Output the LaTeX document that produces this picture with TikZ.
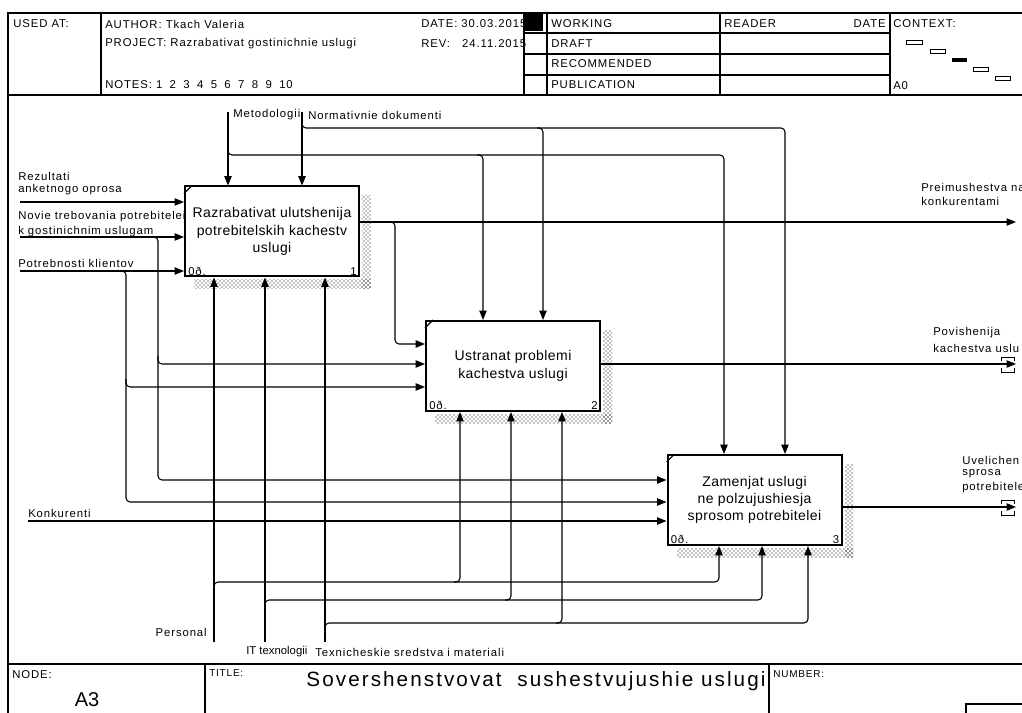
\documentclass[tikz,border=0pt]{standalone}
\usepackage{fontspec}
\setmainfont{Liberation Sans}
\newfontfamily\lblfont[LetterSpace=8]{Liberation Sans}
\newfontfamily\boxfont[LetterSpace=3]{Liberation Sans}
\newfontfamily\ttlfont[LetterSpace=10]{Liberation Sans}
\usetikzlibrary{arrows.meta,patterns,calc}
\tikzset{
  conn/.style={line width=0.8pt, rounded corners=3pt},
  arr/.style={conn, -{Triangle[length=7pt,width=5.5pt]}},
  fbox/.style={draw, line width=1.5pt, fill=white, minimum width=130.5pt, minimum height=67.5pt,
    align=center, font=\boxfont\fontsize{10.5}{13}\selectfont, inner sep=0pt},
  lbl/.style={font=\lblfont\fontsize{8.5}{10.5}\selectfont, inner sep=0pt, anchor=west},
  hdr/.style={font=\lblfont\fontsize{8.5}{10}\selectfont, inner sep=0pt, anchor=west},
  small/.style={font=\lblfont\fontsize{7.5}{9}\selectfont, inner sep=0pt},
  frame/.style={line width=0.9pt},
  shade/.style={pattern=crosshatch dots, pattern color=black},
  ctx/.style={line width=0.7pt},
  tun/.style={line width=0.6pt},
}
\begin{document}
\begin{tikzpicture}[x=0.75pt,y=-0.75pt]
\useasboundingbox (0,0) rectangle (1022,713);
\clip (0,0) rectangle (1022,713);
\fill[white] (0,0) rectangle (1022,713);

% ---------- header ----------
\draw[frame] (8,713) -- (8,13) -- (1022,13);
\draw[frame] (8,95) -- (1022,95);
\draw[frame] (101,13) -- (101,95);
\draw[frame] (524,13) -- (524,95);
\draw[frame] (547,13) -- (547,95);
\draw[frame] (720,13) -- (720,95);
\draw[frame] (890,13) -- (890,95);
\draw[frame] (524,33) -- (890,33);
\draw[frame] (524,54) -- (890,54);
\draw[frame] (524,75) -- (890,75);
\fill (525,13) rectangle (543,31);

\node[hdr] (h1) at (13,24) {USED AT:};
\node[hdr] (h2) at (105,24) {AUTHOR: Tkach Valeria};
\node[hdr] (h3) at (105,44) {PROJECT: Razrabativat gostinichnie uslugi};
\node[hdr] (h4) at (105,85) {NOTES: 1\hspace{2.5pt} 2\hspace{2.5pt} 3\hspace{2.5pt} 4\hspace{2.5pt} 5\hspace{2.5pt} 6\hspace{2.5pt} 7\hspace{2.5pt} 8\hspace{2.5pt} 9\hspace{2.5pt} 10};
\node[hdr] (h5) at (421,24) {DATE: 30.03.2015};
\node[hdr] (h6) at (421,44) {REV:\ \ \ 24.11.2015};
\node[hdr] (h7) at (551,24) {WORKING};
\node[hdr] (h8) at (551,44) {DRAFT};
\node[hdr] (h9) at (551,64) {RECOMMENDED};
\node[hdr] (h10) at (551,85) {PUBLICATION};
\node[hdr] (h11) at (724,24) {READER};
\node[hdr, anchor=east] (h12) at (886,24) {DATE};
\node[hdr] (h13) at (893,24) {CONTEXT:};
\node[hdr] (h14) at (893,86) {A0};
\draw[ctx] (906,40) rectangle (922,44);
\draw[ctx] (930,49) rectangle (945,53);
\fill (952,58) rectangle (967,62);
\draw[ctx] (973,67) rectangle (988,71);
\draw[ctx] (995,76) rectangle (1010,80);

% ---------- footer ----------
\draw[frame] (8,664) -- (1022,664);
\draw[frame] (205,664) -- (205,713);
\draw[frame] (769,664) -- (769,713);
\draw[frame] (1022,704) -- (966,704) -- (966,713);
\node[hdr] (f1) at (12,675) {NODE:};
\node[font=\fontsize{15}{18}\selectfont, inner sep=0pt] (f2) at (87,700) {A3};
\node[small, anchor=west] (f3) at (209,673) {TITLE:};
\node[font=\ttlfont\fontsize{15.5}{18}\selectfont, inner sep=0pt] (f4) at (536,681) {Sovershenstvovat\ \ sushestvujushie uslugi};
\node[small, anchor=west] (f5) at (773,674) {NUMBER:};

% ---------- boxes ----------
\node[fbox] (b1) at (272,231.5) {Razrabativat ulutshenija\\potrebitelskih kachestv\\uslugi};
\node[fbox] (b2) at (513,366) {Ustranat problemi\\kachestva uslugi};
\node[fbox] (b3) at (754.5,500) {Zamenjat uslugi\\ne polzujushiesja\\sprosom potrebitelei};

\foreach \b/\n in {b1/1,b2/2,b3/3}{
  \fill[shade] ($(\b.north east)+(2,10)$) rectangle ($(\b.south east)+(11,11)$);
  \fill[shade] ($(\b.south west)+(10,2)$) rectangle ($(\b.south east)+(11,11)$);
  \draw[line width=0.8pt] ($(\b.north west)+(0,8)$) -- ($(\b.north west)+(8,0)$);
  \node[font=\lblfont\fontsize{8.5}{10}\selectfont, inner sep=0pt, anchor=south west] (\b o) at ($(\b.south west)+(4,-2)$) {0ð.};
  \node[font=\lblfont\fontsize{8.5}{10}\selectfont, inner sep=0pt, anchor=south east] (\b n) at ($(\b.south east)+(-3,-2)$) {\n};
}

% ---------- inputs ----------
\coordinate (rez) at (20,202);
\coordinate (nov) at (20,237);
\coordinate (pot) at (20,271);
\coordinate (kon) at (28,521);
\draw[arr] (rez) -- (rez -| b1.west);
\draw[arr] (nov) -- (nov -| b1.west);
\draw[arr] (pot) -- (pot -| b1.west);
\draw[arr] (kon) -- (kon -| b3.west);
\draw[arr] (152,237) -- (158,237) -- (158,480) -- (b3.west |- 0,480);
\draw[arr] (158,356) -- (158,364) -- (b2.west |- 0,364);
\draw[arr] (120,271) -- (126,271) -- (126,502) -- (b3.west |- 0,502);
\draw[arr] (126,379) -- (126,387) -- (b2.west |- 0,387);

% ---------- outputs ----------
\coordinate (o1) at (1016,222);
\coordinate (o2) at (1016,364);
\coordinate (o3) at (1016,507);
\draw[arr] (b1.east |- o1) -- (o1);
\draw[arr] (389,222) -- (395,222) -- (395,344) -- (b2.west |- 0,344);
\draw[arr] (b2.east |- o2) -- (o2);
\draw[arr] (b3.east |- o3) -- (o3);
\foreach \c in {o2,o3}{
  \draw[tun] ($(\c)+(-15,-3)$) -- ($(\c)+(-15,-7)$) -- ($(\c)+(-2,-7)$) -- ($(\c)+(-2,-3)$);
  \draw[tun] ($(\c)+(-15,4)$) -- ($(\c)+(-15,8)$) -- ($(\c)+(-2,8)$) -- ($(\c)+(-2,4)$);
}

% ---------- controls ----------
\coordinate (met) at (228,112);
\coordinate (nor) at (302,112);
\draw[arr] (met) -- (met |- b1.north);
\draw[arr] (nor) -- (nor |- b1.north);
\draw[arr] (228,148) -- (228,155) -- (724,155) -- (b3.north -| 724,0);
\draw[arr] (477,155) -- (483,155) -- (b2.north -| 483,0);
\draw[arr] (302,121) -- (302,128) -- (785,128) -- (b3.north -| 785,0);
\draw[arr] (537,128) -- (543,128) -- (b2.north -| 543,0);

% ---------- mechanisms ----------
\coordinate (per) at (214,642);
\coordinate (itx) at (265,642);
\coordinate (tex) at (325,642);
\draw[arr] (per) -- (per |- b1.south);
\draw[arr] (itx) -- (itx |- b1.south);
\draw[arr] (tex) -- (tex |- b1.south);
\draw[arr] (214,590) -- (214,582) -- (719,582) -- (b3.south -| 719,0);
\draw[arr] (454,582) -- (460,582) -- (b2.south -| 460,0);
\draw[arr] (265,608) -- (265,600) -- (762,600) -- (b3.south -| 762,0);
\draw[arr] (505,600) -- (511,600) -- (b2.south -| 511,0);
\draw[arr] (325,631) -- (325,623) -- (808,623) -- (b3.south -| 808,0);
\draw[arr] (556,623) -- (562,623) -- (b2.south -| 562,0);

% ---------- labels ----------
\node[lbl] (l1) at (18,176) {Rezultati};
\node[lbl] (l2) at (18,190) {anketnogo oprosa};
\node[lbl] (l3) at (18,217) {Novie trebovania potrebitelei};
\node[lbl] (l4) at (18,232) {k gostinichnim uslugam};
\node[lbl] (l5) at (18,263) {Potrebnosti klientov};
\node[lbl] (l6) at (28,513) {Konkurenti};
\node[lbl] (l7) at (233,115) {Metodologii};
\node[lbl] (l8) at (308,115) {Normativnie dokumenti};
\node[lbl, anchor=east] (l9) at (207,632) {Personal};
\node[font=\fontsize{8.5}{10.5}\selectfont, inner sep=0pt, anchor=west] (l10) at (246,652) {IT texnologii};
\node[lbl] (l11) at (315,652) {Texnicheskie sredstva i materiali};
\node[lbl] (l12) at (921,187) {Preimushestva na};
\node[lbl] (l13) at (921,201) {konkurentami};
\node[lbl] (l14) at (933,333) {Povishenija};
\node[lbl] (l15) at (933,348) {kachestva uslu};
\node[lbl] (l16) at (962,460) {Uvelichen};
\node[lbl] (l17) at (962,474) {sprosa};
\node[lbl] (l18) at (962,488) {potrebitele};
\end{tikzpicture}
\end{document}
